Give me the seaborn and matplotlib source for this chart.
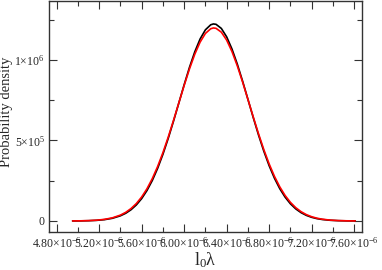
import numpy as np
import pandas as pd
import seaborn as sns
import matplotlib.pyplot as plt
from matplotlib.ticker import MultipleLocator, FuncFormatter

# values (x in units of 1e-6)
x_vals = [4.95, 5.025, 5.10, 5.175, 5.25, 5.325, 5.40, 5.45, 5.50, 5.55, 5.60, 5.65,
          5.70, 5.75, 5.80, 5.85, 5.90, 5.95, 6.00, 6.05, 6.10, 6.15, 6.20, 6.25,
          6.275, 6.30, 6.35, 6.40, 6.45, 6.50, 6.55, 6.60, 6.65, 6.70, 6.75, 6.80,
          6.85, 6.90, 6.95, 7.00, 7.05, 7.10, 7.15, 7.20, 7.25, 7.30, 7.375, 7.45,
          7.53, 7.61]
black_vals = [300, 740, 1750, 3900, 8300, 16800, 32100, 47900, 69900, 99800, 139000,
              189200, 251400, 326500, 414000, 512800, 620600, 733200, 846300, 954400,
              1050900, 1130500, 1187600, 1218800, 1223900, 1221700, 1196100, 1143800,
              1068300, 974800, 868700, 756100, 642800, 533800, 433000, 343100, 265400,
              200500, 148100, 106800, 75200, 51800, 34800, 22800, 14600, 9200, 4340,
              1960, 790, 300]
red_vals = [410, 990, 2250, 4870, 10000, 19600, 36500, 53700, 77300, 108400, 149000,
            200200, 263100, 337900, 424200, 520900, 625300, 733800, 842000, 944600,
            1036000, 1111000, 1165000, 1194200, 1199000, 1196800, 1172800, 1123600,
            1052500, 963900, 863200, 755600, 646800, 541300, 442800, 354200, 277100,
            211900, 158400, 115800, 82800, 57900, 39500, 26400, 17200, 11000, 5380,
            2500, 1050, 410]

sns.set_style("ticks")
plt.rcParams['font.family'] = ['Liberation Serif', 'DejaVu Serif']
plt.rcParams['mathtext.fontset'] = 'custom'
plt.rcParams['mathtext.rm'] = 'Liberation Serif'
plt.rcParams['mathtext.it'] = 'Liberation Serif:italic'

df = pd.DataFrame({'x': np.array(x_vals) * 1e-6, 'black': black_vals, 'red': red_vals})

fig = plt.figure(figsize=(3.82, 2.70), dpi=100)
ax = fig.add_axes([0.128, 0.141, 0.82, 0.855])
sns.lineplot(data=df, x='x', y='black', color='black', lw=1.2, ax=ax)
sns.lineplot(data=df, x='x', y='red', color='red', lw=1.2, ax=ax)

ax.set_xlim(4.727e-6, 7.675e-6)
ax.set_ylim(-0.068e6, 1.366e6)

ax.xaxis.set_major_locator(MultipleLocator(0.4e-6))
ax.xaxis.set_minor_locator(MultipleLocator(0.2e-6))
ax.yaxis.set_major_locator(MultipleLocator(5e5))
ax.yaxis.set_minor_locator(MultipleLocator(2.5e5))


def xfmt(v, pos):
    return r"$\mathregular{%.2f{\times}10^{-6}}$" % (v * 1e6)


def yfmt(v, pos):
    if abs(v) < 1:
        return "0"
    if v >= 1e6:
        return r"$\mathregular{%d{\times}10^{6}}$" % round(v / 1e6)
    return r"$\mathregular{%d{\times}10^{5}}$" % round(v / 1e5)


ax.xaxis.set_major_formatter(FuncFormatter(xfmt))
ax.yaxis.set_major_formatter(FuncFormatter(yfmt))
ax.tick_params(which='both', direction='in', top=True, right=True, labelsize=8.5,
               width=0.8, color='#333333', pad=3)
ax.tick_params(which='major', length=6)
ax.tick_params(which='minor', length=3.5)
for s in ax.spines.values():
    s.set_linewidth(1.0)
    s.set_color('#333333')

ax.set_xlabel(r"$\mathregular{l_0\lambda}$", fontsize=13, labelpad=0)
ax.set_ylabel("Probability density", fontsize=10.5)
ax.yaxis.set_label_coords(-0.113, 0.52)

fig.savefig('out.png', dpi=100)
